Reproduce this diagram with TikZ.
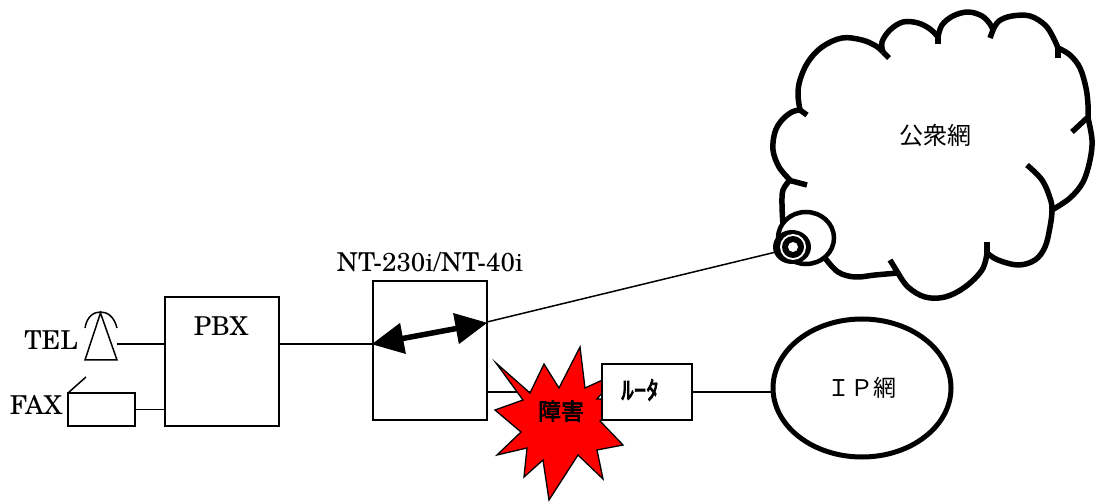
\documentclass[tikz,border=0pt]{standalone}
\usepackage{fontspec}
\setmainfont{TeX Gyre Schola}
\newfontfamily\cjk{Noto Sans CJK JP}
\newfontfamily\cjkb{Noto Sans CJK JP}[FakeBold=3]
\usetikzlibrary{shapes.geometric,calc}
\tikzset{
  box/.style={draw, line width=1.5pt, fill=white, inner sep=0pt, outer sep=0pt},
  wire/.style={line width=1.5pt},
  serif/.style={font=\fontsize{26}{30}\selectfont, inner sep=0pt},
  cloudline/.style={line width=5.5pt, line join=round},
  tick/.style={line width=5.5pt},
  shaft/.style={line width=5.5pt},
  headtri/.style={fill=black, draw=black, line width=1pt, line join=miter},
}
\begin{document}
\begin{tikzpicture}[x=1pt,y=-1pt]
\useasboundingbox (0,0) rectangle (1095,502);

% ---- left side: TEL, FAX, PBX
\node[serif] (tel) at (51,340) {TEL};
\draw[wire, line join=miter] (85,360) -- (100.5,313) -- (117,360) -- cycle;
\draw[wire] (85,328) .. controls (87,316) and (94,312) .. (100.5,312) .. controls (107,312) and (114,316) .. (117,328);
\coordinate (teljack) at (117,344);

\node[serif] (faxlbl) at (36,405) {FAX};
\node[box, minimum width=67pt, minimum height=33pt] (fax) at (101.5,409.5) {};
\draw[wire] (fax.north west) -- ++(18,-16);

\node[box, minimum width=114pt, minimum height=129pt] (pbx) at (222,361.5) {};
\node[serif] (pbxlbl) at (221,326) {PBX};

\draw[wire] (teljack) -- (teljack -| pbx.west);
\draw[wire] (fax.east) -- (fax.east -| pbx.west);

% ---- NT box
\node[box, minimum width=114pt, minimum height=139pt] (nt) at (430,350.5) {};
\node[serif] (ntlbl) at (430,262) {NT-230i/NT-40i};
\coordinate (ntL) at (373,344);
\coordinate (ntR) at (486,323);
\coordinate (ntUp) at (487,322);
\draw[wire] (pbx.east |- ntL) -- (ntL);
% double arrow with large heads
\coordinate (lb) at ($(ntL)!30pt!(ntR)$);
\coordinate (rb) at ($(ntR)!30pt!(ntL)$);
\draw[shaft] (lb) -- (rb);
\draw[headtri] (ntL) -- ($(lb)!15pt!90:(ntR)$) -- ($(lb)!15pt!-90:(ntR)$) -- cycle;
\draw[headtri] (ntR) -- ($(rb)!15pt!90:(ntL)$) -- ($(rb)!15pt!-90:(ntL)$) -- cycle;

% ---- router and IP network
\node[box, minimum width=90pt, minimum height=56pt] (router) at (647,392) {};
\node[ellipse, draw, line width=5pt, minimum width=178pt, minimum height=138pt, inner sep=0pt,
      font=\cjk\fontsize{23}{26}\selectfont] (ip) at (862,388) {ＩＰ網};
\draw[wire] (nt.east |- router.west) -- (router.west);
\draw[wire] (router.east) -- (router.east -| ip.west);

% ---- fault star
\draw[fill=red, line width=1.3pt, line join=miter]
  (496,363) -- (530,393) -- (544,364) -- (559,388) -- (580,347) -- (585,388) --
  (620,372) -- (597,399) -- (625,400) -- (600,421) -- (623,445) -- (597,450) --
  (603,479) -- (578,455) -- (549,500) -- (543,460) -- (524,477) -- (527,448) --
  (497,455) -- (521,432) -- (495,410) -- (523,400) -- cycle;
\node[font=\cjkb\fontsize{23}{25}\selectfont, inner sep=0pt] (fault) at (561,411) {障害};
% router drawn again on top of the star
\node[box, minimum width=90pt, minimum height=56pt] at (router) {};
\node[font=\cjkb\fontsize{25}{28}\selectfont, inner sep=0pt] (rtxt) at (640,390) {ﾙｰﾀ};

% ---- public network cloud
\draw[cloudline] plot[smooth, tension=0.6] coordinates {(790,180) (779,167) (773,150) (775,132) (782,120) (792,112) (800,110)};
\draw[cloudline] plot[smooth, tension=0.6] coordinates {(800,110) (798,95) (800,80) (808,62) (822,47) (842,38) (862,40) (876,46) (883,52)};
\draw[cloudline] plot[smooth, tension=0.6] coordinates {(883,52) (882,42) (890,30) (903,22) (918,23) (930,29) (938,37)};
\draw[cloudline] plot[smooth, tension=0.6] coordinates {(938,37) (942,25) (953,16) (968,12) (982,16) (990,24) (993,30)};
\draw[cloudline] plot[smooth, tension=0.6] coordinates {(993,30) (999,21) (1012,16) (1030,16) (1045,25) (1053,37) (1058,48)};
\draw[cloudline] plot[smooth, tension=0.6] coordinates {(1058,48) (1070,55) (1080,68) (1086,88) (1088,105) (1088,118)};
\draw[cloudline] plot[smooth, tension=0.6] coordinates {(1088,118) (1092,140) (1090,160) (1083,182) (1070,198) (1052,210)};
\draw[cloudline] plot[smooth, tension=0.6] coordinates {(1027,165) (1042,180) (1050,198) (1052,210) (1050,227) (1045,247) (1035,260) (1018,265) (998,260) (987,253)};
\draw[cloudline] plot[smooth, tension=0.6] coordinates {(987,253) (982,270) (965,287) (945,297) (925,297) (908,287) (898,273)};
\draw[cloudline] plot[smooth, tension=0.6] coordinates {(898,273) (875,275) (855,277) (838,272) (825,258)};
\draw[cloudline] plot[smooth, tension=0.6] coordinates {(783,225) (782,205) (783,190) (790,180)};
% inward ticks at the cusps
\draw[tick] (788,180) -- (807,185);
\draw[tick] (800,110) -- (807,115);
\draw[tick] (883,52) -- (889,58);
\draw[tick] (938,37) -- (938,44);
\draw[tick] (993,30) -- (990,38);
\draw[tick] (1058,48) -- (1058,58);
\draw[tick] (1087,118) -- (1072,132);
\draw[tick] (987,253) -- (987,242);
\draw[tick] (898,273) -- (890,260);
\node[font=\cjk\fontsize{24}{26}\selectfont, inner sep=0pt] (pub) at (935,135) {公衆網};

% ---- connector to the cloud
\coordinate (plug) at (776,252);
\draw[wire] (ntUp) -- (plug);
\draw[line width=4.5pt, fill=white] (806,238) ellipse [x radius=28, y radius=26];
\fill[black] (792,247) ellipse [x radius=19, y radius=17];
\fill[white] (793,247) circle [radius=13];
\fill[black] (793,247) circle [radius=11];
\fill[white] (793,247) circle [radius=5];
\end{tikzpicture}
\end{document}
